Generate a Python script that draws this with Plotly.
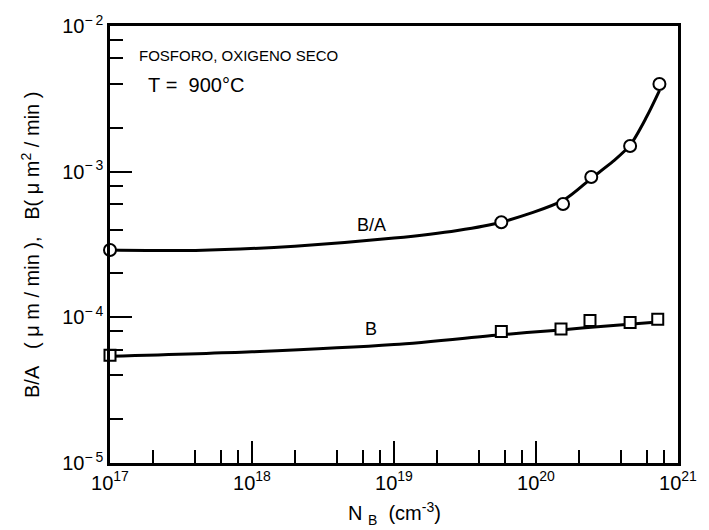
import plotly.graph_objects as go

# Data
ba_x = [1e17, 5.7e19, 1.55e20, 2.45e20, 4.6e20, 7.4e20]
ba_y = [2.9e-4, 4.5e-4, 6.0e-4, 9.2e-4, 1.5e-3, 4.0e-3]
b_x = [1e17, 5.7e19, 1.5e20, 2.4e20, 4.6e20, 7.2e20]
b_y = [5.5e-5, 8.0e-5, 8.3e-5, 9.5e-5, 9.2e-5, 9.7e-5]

# fitted curves as traced in the picture
ba_curve_x = [1e17, 4e17, 2e18, 1e19, 2.8e19, 5.7e19, 1.55e20, 2.45e20, 3.5e20, 4.6e20, 6e20, 7.4e20]
ba_curve_y = [2.9e-4, 2.88e-4, 3.08e-4, 3.5e-4, 3.95e-4, 4.5e-4, 6.35e-4, 9.0e-4, 1.18e-3, 1.52e-3, 2.37e-3, 3.6e-3]
b_curve_x = [1e17, 1e18, 1e19, 5.7e19, 1.5e20, 3e20, 7.2e20]
b_curve_y = [5.4e-5, 5.8e-5, 6.5e-5, 7.6e-5, 8.2e-5, 8.7e-5, 9.3e-5]

x_ticks = [1e17, 1e18, 1e19, 1e20, 1e21]
x_text = ["10<sup>17</sup>", "10<sup>18</sup>", "10<sup>19</sup>", "10<sup>20</sup>", "10<sup>21</sup>"]
y_ticks = [1e-5, 1e-4, 1e-3, 1e-2]
y_text = ["10<sup>\u2212\u2009" + e + "</sup>" for e in ["5", "4", "3", "2"]]
minor_digits = [2, 4, 6, 8]

x_minor = [float(d) * 10.0**e for e in range(17, 21) for d in minor_digits]
y_minor = [float(d) * 10.0**e for e in range(-5, -2) for d in minor_digits]

FONT = "Liberation Sans, Arial, sans-serif"
NB = "\u00a0"

fig = go.Figure()
fig.add_trace(go.Scatter(x=ba_curve_x, y=ba_curve_y, mode="lines",
                         line=dict(color="black", width=3, shape="spline", smoothing=0.8), showlegend=False))
fig.add_trace(go.Scatter(x=b_curve_x, y=b_curve_y, mode="lines",
                         line=dict(color="black", width=3, shape="spline", smoothing=0.8), showlegend=False))
fig.add_trace(go.Scatter(x=ba_x, y=ba_y, mode="markers", cliponaxis=False,
                         marker=dict(symbol="circle", size=12, color="white", line=dict(color="black", width=2)), showlegend=False))
fig.add_trace(go.Scatter(x=b_x, y=b_y, mode="markers", cliponaxis=False,
                         marker=dict(symbol="square", size=11, color="white", line=dict(color="black", width=2)), showlegend=False))

axis_common = dict(type="log", showgrid=False, zeroline=False, showline=True, linecolor="black", linewidth=2.5,
                   mirror=True, ticks="inside", ticklen=22, tickwidth=2, tickcolor="black",
                   tickfont=dict(family=FONT, size=20, color="black"))
fig.update_xaxes(**axis_common, range=[17, 21], tickmode="array", tickvals=x_ticks, ticktext=x_text,
                 minor=dict(tickmode="array", tickvals=x_minor, ticks="inside", ticklen=13, tickwidth=2, tickcolor="black"))
fig.update_yaxes(**axis_common, range=[-5, -2], tickmode="array", tickvals=y_ticks, ticktext=y_text,
                 minor=dict(tickmode="array", tickvals=y_minor, ticks="inside", ticklen=13, tickwidth=2, tickcolor="black"))

# axis titles
ytitle = ("B/A" + NB * 3 + "(" + NB + "μ" + NB + "m" + NB + "/" + NB + "min" + NB + ")," + NB * 3 +
          "B(" + NB + "μ" + NB + "m<sup>2</sup>" + NB + "/" + NB + "min" + NB + ")")
fig.add_annotation(x=-0.14, y=0.5, xref="paper", yref="paper", text=ytitle, textangle=-90, showarrow=False,
                   xanchor="center", yanchor="middle", font=dict(family=FONT, size=20, color="black"))
fig.add_annotation(x=0.5, y=-0.115, xref="paper", yref="paper",
                   text="N" + NB + "<sub>B</sub>" + NB * 2 + "(cm<sup>-3</sup>)", showarrow=False,
                   xanchor="center", yanchor="middle", font=dict(family=FONT, size=20, color="black"))

fig.add_annotation(x=0.047, y=0.932, xref="paper", yref="paper", text="FOSFORO, OXIGENO SECO", showarrow=False,
                   xanchor="left", yanchor="middle", font=dict(family=FONT, size=15, color="black"))
fig.add_annotation(x=0.064, y=0.864, xref="paper", yref="paper", text="T" + NB + "=" + NB * 2 + "900°C", showarrow=False,
                   xanchor="left", yanchor="middle", font=dict(family=FONT, size=20, color="black"))
fig.add_annotation(x=18.84, y=-3.367, xref="x", yref="y", text="B/A", showarrow=False,
                   font=dict(family=FONT, size=18, color="black"))
fig.add_annotation(x=18.84, y=-4.08, xref="x", yref="y", text="B", showarrow=False,
                   font=dict(family=FONT, size=18, color="black"))

fig.update_layout(width=709, height=530, margin=dict(l=110, r=27, t=21, b=67),
                  paper_bgcolor="white", plot_bgcolor="white")
fig.write_html("out.html")
